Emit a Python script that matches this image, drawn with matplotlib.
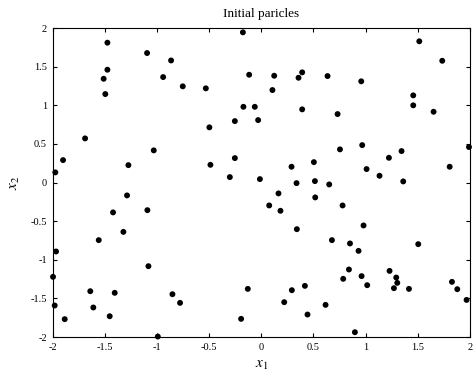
import matplotlib
matplotlib.use("Agg")
import matplotlib.pyplot as plt

x1 = [-1.474, -1.094, -0.864, -1.474, -1.51, -0.94, -0.752, -0.531, -1.494, -0.253,
      -0.497, -1.688, -1.03, -1.899, -1.273, -0.487, -0.253, -1.973, -0.301,
      -0.176, 1.514, 1.734, -0.116, 0.124, 0.357, 0.392, 0.635, 0.958, 0.107,
      1.456, 1.456, -0.171, -0.062, 0.392, 1.651, -0.03, 0.731, 1.99, 0.754,
      0.967, 1.344, 1.223, 0.29, 0.504, 1.009, 1.805, -0.013, 1.133, 0.338,
      0.514, 0.651, 1.36,
      -1.286, -1.091, -1.42, -1.321, -1.557, -1.966, -1.081, -1.995, -1.638,
      -1.404, -0.851, -0.778, -1.979, -1.609, -1.883, -1.452, -0.991,
      0.165, 0.076, 0.184, 0.517, 0.779, 0.98, 0.341, 0.677, 0.85, 0.932,
      1.504, 0.84, 0.785, 0.961, 1.229, 1.293, 1.303, 1.015, 1.271, 1.415,
      1.827, 1.878, 1.967, -0.129, 0.293, 0.418, 0.22, 0.616, 0.443, -0.193,
      0.897]
x2 = [1.81, 1.676, 1.58, 1.46, 1.343, 1.365, 1.245, 1.219, 1.145, 0.795,
      0.714, 0.571, 0.416, 0.29, 0.225, 0.229, 0.316, 0.131, 0.07,
      1.944, 1.828, 1.576, 1.395, 1.382, 1.356, 1.426, 1.378, 1.31, 1.197,
      1.128, 0.999, 0.98, 0.98, 0.947, 0.916, 0.808, 0.886, 0.459, 0.429,
      0.484, 0.407, 0.32, 0.204, 0.264, 0.174, 0.204, 0.044, 0.087, -0.008,
      0.018, -0.025, 0.014,
      -0.167, -0.358, -0.387, -0.639, -0.746, -0.893, -1.083, -1.221, -1.407,
      -1.428, -1.446, -1.558, -1.592, -1.618, -1.769, -1.731, -1.994,
      -0.141, -0.297, -0.366, -0.193, -0.297, -0.556, -0.604, -0.746, -0.789,
      -0.885, -0.798, -1.126, -1.247, -1.212, -1.144, -1.23, -1.299, -1.329,
      -1.368, -1.377, -1.286, -1.381, -1.52, -1.377, -1.394, -1.338, -1.549,
      -1.584, -1.709, -1.765, -1.938]

ticks = [-2, -1.5, -1, -0.5, 0, 0.5, 1, 1.5, 2]
tick_labels = ["-2", "-1.5", "-1", "-0.5", "0", "0.5", "1", "1.5", "2"]

plt.rcParams['font.family'] = ['Liberation Serif', 'DejaVu Serif']
plt.rcParams['mathtext.fontset'] = 'stix'
plt.rcParams['axes.unicode_minus'] = False

fig = plt.figure(figsize=(4.73, 3.76), dpi=100)
ax = fig.add_axes([0.111, 0.1037, 0.8827, 0.8218])
ax.scatter(x1, x2, s=18, c='black', edgecolors='none', clip_on=False, zorder=3)
ax.set_xlim(-2, 2)
ax.set_ylim(-2, 2)
ax.set_xticks(ticks)
ax.set_xticklabels(tick_labels)
ax.set_yticks(ticks)
ax.set_yticklabels(tick_labels)
ax.tick_params(direction='in', top=True, right=True, length=3, width=0.8,
               labelsize=7.5, pad=4)
for sp in ax.spines.values():
    sp.set_linewidth(0.8)
ax.set_title("Initial paricles", fontsize=9.5, pad=8)
ax.set_xlabel("$x_1$", fontsize=11, labelpad=5)
ax.set_ylabel("$x_2$", fontsize=11, labelpad=6)
fig.savefig("out.png", dpi=100)
